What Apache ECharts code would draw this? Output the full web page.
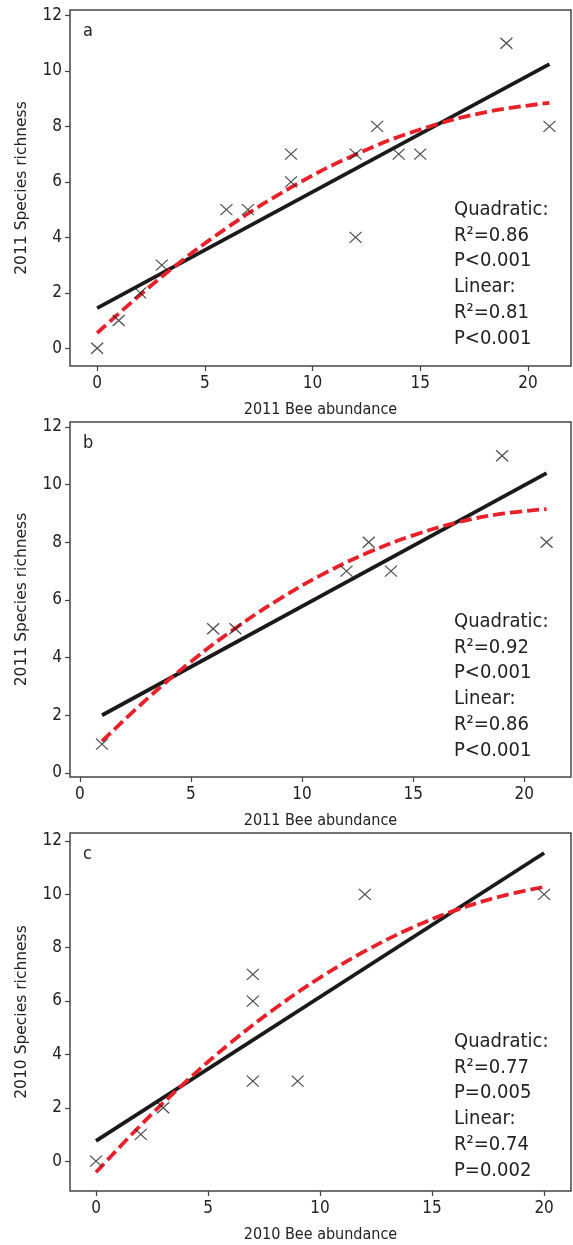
<!DOCTYPE html>
<html>
<head>
<meta charset="utf-8">
<script src="https://cdn.jsdelivr.net/npm/echarts@6/dist/echarts.min.js"></script>
<style>
  html, body { margin: 0; padding: 0; background: #fff; }
  #chart { width: 573px; height: 1245px; }
</style>
</head>
<body>
<div id="chart"></div>
<script>
// panel a: 2011, all sites
const beeA = [0, 1, 2, 3, 6, 7, 9, 9, 12, 12, 13, 14, 15, 19, 21];
const richA = [0, 1, 2, 3, 5, 5, 7, 6, 7, 4, 8, 7, 7, 11, 8];
const linAx = [0, 21];
const linAy = [1.45, 10.25];
const quadAx = [0, 3, 6, 9, 12, 15, 18, 21];
const quadAy = [0.55, 2.58, 4.33, 5.8, 6.99, 7.89, 8.51, 8.85];

// panel b: 2011, subset
const beeB = [1, 6, 7, 12, 13, 14, 19, 21];
const richB = [1, 5, 5, 7, 8, 7, 11, 8];
const linBx = [1, 21];
const linBy = [2.0, 10.4];
const quadBx = [1, 3, 5, 7, 9, 11, 13, 15, 17, 19, 21];
const quadBy = [1.1, 2.55, 3.86, 5.02, 6.04, 6.92, 7.65, 8.24, 8.69, 8.99, 9.15];

// panel c: 2010
const beeC = [0, 2, 3, 7, 7, 7, 9, 12, 20];
const richC = [0, 1, 2, 7, 6, 3, 3, 10, 10];
const linCx = [0, 20];
const linCy = [0.76, 11.55];
const quadCx = [0, 2, 4, 6, 8, 10, 12, 14, 16, 18, 20];
const quadCy = [-0.42, 1.35, 2.97, 4.43, 5.73, 6.88, 7.87, 8.71, 9.39, 9.91, 10.28];

const xTicks = [0, 5, 10, 15, 20];
const yTicks = [0, 2, 4, 6, 8, 10, 12];

const panelLabels = ["a", "b", "c"];
const xNames = ["2011 Bee abundance", "2011 Bee abundance", "2010 Bee abundance"];
const yNames = ["2011 Species richness", "2011 Species richness", "2010 Species richness"];
const statsText = [
  ["Quadratic:", "R²=0.86", "P<0.001", "Linear:", "R²=0.81", "P<0.001"],
  ["Quadratic:", "R²=0.92", "P<0.001", "Linear:", "R²=0.86", "P<0.001"],
  ["Quadratic:", "R²=0.77", "P=0.005", "Linear:", "R²=0.74", "P=0.002"]
];

const FONT = "'DejaVu Sans Condensed', 'DejaVu Sans', sans-serif";
const TXT = "#222";

const grids = [
  { left: 70, top: 10, width: 501, height: 356 },
  { left: 70, top: 422, width: 501, height: 355 },
  { left: 70, top: 833, width: 501, height: 358 }
];
const xRanges = [[-1.26, 22.0], [-0.44, 22.1], [-1.16, 21.2]];
const yRanges = [[-0.64, 12.2], [-0.14, 12.17], [-1.12, 12.3]];
const statsTop = [197, 609, 1029];

const pts = (xs, ys) => xs.map((x, i) => [x, ys[i]]);
const panels = [
  { bee: beeA, rich: richA, lin: pts(linAx, linAy), quad: pts(quadAx, quadAy) },
  { bee: beeB, rich: richB, lin: pts(linBx, linBy), quad: pts(quadBx, quadBy) },
  { bee: beeC, rich: richC, lin: pts(linCx, linCy), quad: pts(quadCx, quadCy) }
];

const xAxis = [], yAxis = [], series = [], graphic = [];
panels.forEach((p, i) => {
  xAxis.push({
    type: "value", gridIndex: i, position: "bottom",
    min: xRanges[i][0], max: xRanges[i][1],
    name: xNames[i], nameLocation: "middle", nameGap: 36,
    nameTextStyle: { fontFamily: FONT, fontSize: 16, color: TXT },
    axisLine: { show: false, onZero: false },
    axisTick: { show: true, length: 5, customValues: xTicks, lineStyle: { color: "#444", width: 1.2 } },
    axisLabel: { customValues: xTicks, margin: 9, fontFamily: FONT, fontSize: 17, color: TXT },
    splitLine: { show: false }
  });
  yAxis.push({
    type: "value", gridIndex: i, position: "left",
    min: yRanges[i][0], max: yRanges[i][1],
    name: yNames[i], nameLocation: "middle", nameGap: 40,
    nameTextStyle: { fontFamily: "'DejaVu Sans', sans-serif", fontSize: 15.5, color: TXT },
    axisLine: { show: false, onZero: false },
    axisTick: { show: true, length: 5, customValues: yTicks, lineStyle: { color: "#444", width: 1.2 } },
    axisLabel: { customValues: yTicks, margin: 8, fontFamily: FONT, fontSize: 17, color: TXT },
    splitLine: { show: false }
  });
  series.push({
    type: "line", xAxisIndex: i, yAxisIndex: i,
    data: p.lin, symbol: "none", silent: true,
    lineStyle: { color: "#1a1a1a", width: 3.8 }, z: 2
  });
  series.push({
    type: "line", xAxisIndex: i, yAxisIndex: i,
    data: p.quad, symbol: "none", smooth: 0.4, silent: true,
    lineStyle: { color: "#e8202a", width: 3.8, type: [12, 5] }, z: 3
  });
  series.push({
    type: "scatter", xAxisIndex: i, yAxisIndex: i,
    data: pts(p.bee, p.rich),
    symbol: "path://M0,0L10,10M10,0L0,10", symbolSize: [12, 11],
    itemStyle: { color: "transparent", borderColor: "#222", borderWidth: 1.2 }, z: 4
  });
  graphic.push({
    type: "text", left: 83, top: grids[i].top + 12,
    style: { text: panelLabels[i], font: "18px " + FONT, fill: TXT }
  });
  graphic.push({
    type: "text", left: 454, top: statsTop[i],
    style: { text: statsText[i].join("\n"), font: "20px " + FONT, lineHeight: 25.7, fill: TXT }
  });
});

const chart = echarts.init(document.getElementById("chart"));
chart.setOption({
  animation: false,
  backgroundColor: "#fff",
  grid: grids.map(g => Object.assign({ show: true, borderColor: "#444", borderWidth: 1.5, backgroundColor: "transparent" }, g)),
  xAxis: xAxis,
  yAxis: yAxis,
  series: series,
  graphic: graphic
});
</script>
</body>
</html>
